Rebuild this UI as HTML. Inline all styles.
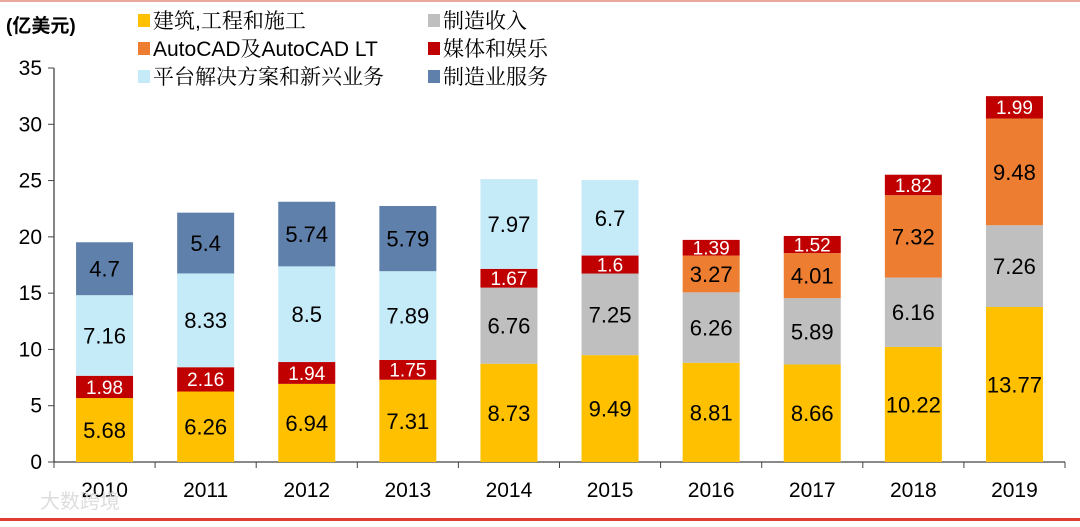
<!DOCTYPE html>
<html><head><meta charset="utf-8"><style>
body{margin:0;background:#fff}
svg text{font-family:"Liberation Sans","Noto Sans CJK SC",sans-serif}
svg text.lg{font-family:"Liberation Sans","Noto Serif CJK SC",serif}
</style></head><body>
<svg id="c" width="1080" height="522" xmlns="http://www.w3.org/2000/svg">
<rect x="0" y="0" width="1080" height="2" fill="#e8a8a0"/>
<rect x="0" y="518" width="1080" height="3" fill="#e03c31"/>
<text x="6" y="32" font-size="19" font-weight="bold">(亿美元)</text>
<g id="legend"></g>
<g id="axes"></g>
<g id="bars"></g>
<text x="40" y="508" font-size="20" fill="#ddd">大数跨境</text>
</svg>
<script>
const categories=["2010","2011","2012","2013","2014","2015","2016","2017","2018","2019"];
const seriesNames=["建筑,工程和施工","制造收入","AutoCAD及AutoCAD LT","媒体和娱乐","平台解决方案和新兴业务","制造业服务"];
const aec=[5.68,6.26,6.94,7.31,8.73,9.49,8.81,8.66,10.22,13.77];
const mfgRev=[null,null,null,null,6.76,7.25,6.26,5.89,6.16,7.26];
const autocad=[null,null,null,null,null,null,3.27,4.01,7.32,9.48];
const media=[1.98,2.16,1.94,1.75,1.67,1.6,1.39,1.52,1.82,1.99];
const platform=[7.16,8.33,8.5,7.89,7.97,6.7,null,null,null,null];
const mfgSvc=[4.7,5.4,5.74,5.79,null,null,null,null,null,null];
const yTicks=[0,5,10,15,20,25,30,35];

const NS="http://www.w3.org/2000/svg";
const svg=document.getElementById('c');
function mk(t,a,p){const e=document.createElementNS(NS,t);for(const k in a)e.setAttribute(k,a[k]);p.appendChild(e);return e;}
const x0=54,cw=101.1,y0=462,ppu=(462-68)/35,bw=57;
const yS=v=>y0-v*ppu;
const xS=i=>x0+cw*i+cw/2;
const series=[
 {v:aec,c:"#FFC000",t:"#000",n:"aec"},
 {v:mfgRev,c:"#BFBFBF",t:"#000",n:"manufacturing-revenue"},
 {v:autocad,c:"#ED7D31",t:"#000",n:"autocad"},
 {v:media,c:"#C00000",t:"#fff",n:"media"},
 {v:platform,c:"#C5EAF8",t:"#000",n:"platform"},
 {v:mfgSvc,c:"#5F80AA",t:"#000",n:"manufacturing-services"}];
const colors=["#FFC000","#BFBFBF","#ED7D31","#C00000","#C5EAF8","#5F80AA"];
const ax=document.getElementById('axes');
let l=mk('line',{x1:x0,y1:yS(35),x2:x0,y2:y0,stroke:"#444","stroke-width":1.3},ax);

l=mk('line',{x1:x0,y1:y0,x2:x0+cw*10,y2:y0,stroke:"#444","stroke-width":1.3},ax);

yTicks.forEach(v=>{
 mk('line',{x1:x0-6,y1:yS(v),x2:x0,y2:yS(v),stroke:"#444"},ax);
 const t=mk('text',{x:x0-12,y:yS(v)+7,"font-size":21,"text-anchor":"end"},ax);t.textContent=v;
 
});
for(let i=0;i<=10;i++)mk('line',{x1:x0+cw*i,y1:y0,x2:x0+cw*i,y2:y0+6,stroke:"#444"},ax);
const bg=document.getElementById('bars');
categories.forEach((c,i)=>{
 const t=mk('text',{x:xS(i),y:497,"font-size":21,"text-anchor":"middle"},ax);t.textContent=c;
 
 let cum=0;
 series.forEach(s=>{
  const v=s.v[i];if(v==null)return;
  const r=mk('rect',{x:xS(i)-bw/2,y:yS(cum+v),width:bw,height:v*ppu,fill:s.c},bg);
  
  const fs=v<2.5?19:22;
  const lt=mk('text',{x:xS(i),y:yS(cum+v/2)+fs*0.36,"font-size":fs,"text-anchor":"middle",fill:s.t},bg);
  lt.textContent=v;
  
  cum+=v;
 });
});
const lg=document.getElementById('legend');
seriesNames.forEach((n,k)=>{
 const col=k%2,row=Math.floor(k/2);
 const x=col?428:138,y=21+row*28;
 const r=mk('rect',{x:x,y:y-7,width:12,height:13,fill:colors[k]},lg);
 
 const t=mk('text',{x:x+15,y:y+7,"font-size":21,"class":"lg"},lg);t.textContent=n;
 
});
</script>
</body></html>
